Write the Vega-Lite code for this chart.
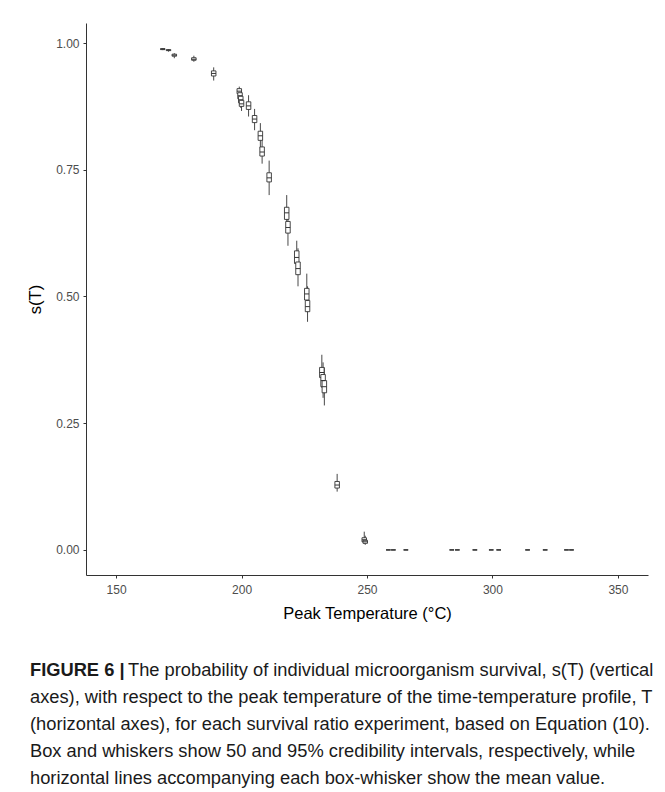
{
  "$schema": "https://vega.github.io/schema/vega-lite/v6.json",
  "background": "white",
  "padding": {"left": 27, "top": 23, "right": 10, "bottom": 0},
  "spacing": 36,
  "config": {
    "view": {"stroke": null},
    "font": "Liberation Sans",
    "axis": {
      "grid": false,
      "domainColor": "#333333",
      "tickColor": "#333333",
      "tickSize": 3,
      "labelColor": "#4d4d4d",
      "labelFontSize": 12,
      "labelFont": "Liberation Sans",
      "titleFont": "Liberation Sans",
      "titleFontSize": 16.5,
      "titleFontWeight": "normal",
      "titleColor": "#000000"
    }
  },
  "datasets": {
    "boxes": [
      {"T": 168.6, "lo": 0.986, "q1": 0.987, "mean": 0.988, "q3": 0.989, "hi": 0.990},
      {"T": 170.9, "lo": 0.983, "q1": 0.985, "mean": 0.986, "q3": 0.987, "hi": 0.988},
      {"T": 173.2, "lo": 0.970, "q1": 0.974, "mean": 0.976, "q3": 0.978, "hi": 0.980},
      {"T": 181.0, "lo": 0.963, "q1": 0.966, "mean": 0.968, "q3": 0.971, "hi": 0.975},
      {"T": 188.9, "lo": 0.926, "q1": 0.935, "mean": 0.940, "q3": 0.945, "hi": 0.952},
      {"T": 199.1, "lo": 0.890, "q1": 0.900, "mean": 0.905, "q3": 0.910, "hi": 0.914},
      {"T": 199.4, "lo": 0.880, "q1": 0.890, "mean": 0.896, "q3": 0.902, "hi": 0.910},
      {"T": 199.7, "lo": 0.872, "q1": 0.882, "mean": 0.888, "q3": 0.895, "hi": 0.905},
      {"T": 200.0, "lo": 0.866, "q1": 0.875, "mean": 0.880, "q3": 0.887, "hi": 0.898},
      {"T": 202.8, "lo": 0.855, "q1": 0.869, "mean": 0.876, "q3": 0.884, "hi": 0.897},
      {"T": 205.2, "lo": 0.828, "q1": 0.843, "mean": 0.850, "q3": 0.857, "hi": 0.870},
      {"T": 207.5, "lo": 0.790, "q1": 0.808, "mean": 0.817, "q3": 0.826, "hi": 0.842},
      {"T": 208.2, "lo": 0.762, "q1": 0.777, "mean": 0.785, "q3": 0.795, "hi": 0.810},
      {"T": 211.0, "lo": 0.700, "q1": 0.726, "mean": 0.734, "q3": 0.744, "hi": 0.768},
      {"T": 218.0, "lo": 0.625, "q1": 0.652, "mean": 0.665, "q3": 0.676, "hi": 0.700},
      {"T": 218.5, "lo": 0.600, "q1": 0.625, "mean": 0.636, "q3": 0.648, "hi": 0.675},
      {"T": 222.0, "lo": 0.545, "q1": 0.565, "mean": 0.577, "q3": 0.590, "hi": 0.610},
      {"T": 222.5, "lo": 0.520, "q1": 0.543, "mean": 0.555, "q3": 0.568, "hi": 0.595},
      {"T": 226.0, "lo": 0.470, "q1": 0.493, "mean": 0.505, "q3": 0.516, "hi": 0.545},
      {"T": 226.3, "lo": 0.450, "q1": 0.470, "mean": 0.480, "q3": 0.492, "hi": 0.520},
      {"T": 232.0, "lo": 0.320, "q1": 0.340, "mean": 0.350, "q3": 0.360, "hi": 0.385},
      {"T": 232.5, "lo": 0.300, "q1": 0.322, "mean": 0.334, "q3": 0.346, "hi": 0.370},
      {"T": 233.0, "lo": 0.285, "q1": 0.310, "mean": 0.322, "q3": 0.334, "hi": 0.360},
      {"T": 238.1, "lo": 0.115, "q1": 0.122, "mean": 0.128, "q3": 0.135, "hi": 0.150},
      {"T": 248.9, "lo": 0.012, "q1": 0.016, "mean": 0.020, "q3": 0.024, "hi": 0.036},
      {"T": 249.3, "lo": 0.010, "q1": 0.013, "mean": 0.016, "q3": 0.019, "hi": 0.028},
      {"T": 258.5, "lo": 0, "q1": 0, "mean": 0, "q3": 0, "hi": 0},
      {"T": 260.5, "lo": 0, "q1": 0, "mean": 0, "q3": 0, "hi": 0},
      {"T": 265.5, "lo": 0, "q1": 0, "mean": 0, "q3": 0, "hi": 0},
      {"T": 283.8, "lo": 0, "q1": 0, "mean": 0, "q3": 0, "hi": 0},
      {"T": 286.0, "lo": 0, "q1": 0, "mean": 0, "q3": 0, "hi": 0},
      {"T": 293.0, "lo": 0, "q1": 0, "mean": 0, "q3": 0, "hi": 0},
      {"T": 299.5, "lo": 0, "q1": 0, "mean": 0, "q3": 0, "hi": 0},
      {"T": 302.5, "lo": 0, "q1": 0, "mean": 0, "q3": 0, "hi": 0},
      {"T": 314.0, "lo": 0, "q1": 0, "mean": 0, "q3": 0, "hi": 0},
      {"T": 321.0, "lo": 0, "q1": 0, "mean": 0, "q3": 0, "hi": 0},
      {"T": 329.5, "lo": 0, "q1": 0, "mean": 0, "q3": 0, "hi": 0},
      {"T": 331.5, "lo": 0, "q1": 0, "mean": 0, "q3": 0, "hi": 0}
    ],
    "captionHead": [
      {"line": 1, "text": "FIGURE 6 |"}
    ],
    "captionFirst": [
      {"line": 1, "text": "The probability of individual microorganism survival, s(T) (vertical"}
    ],
    "captionRest": [
      {"line": 2, "text": "axes), with respect to the peak temperature of the time-temperature profile, T"},
      {"line": 3, "text": "(horizontal axes), for each survival ratio experiment, based on Equation (10)."},
      {"line": 4, "text": "Box and whiskers show 50 and 95% credibility intervals, respectively, while"},
      {"line": 5, "text": "horizontal lines accompanying each box-whisker show the mean value."}
    ]
  },
  "vconcat": [
    {
      "width": 562,
      "height": 552,
      "data": {"name": "boxes"},
      "encoding": {
        "x": {
          "field": "T", "type": "quantitative",
          "scale": {"domain": [140, 360], "nice": false, "zero": false},
          "axis": {"values": [150, 200, 250, 300, 350], "title": "Peak Temperature (°C)", "labelPadding": 6, "titlePadding": 10}
        }
      },
      "layer": [
        {
          "mark": {"type": "rule", "color": "#333333", "strokeWidth": 0.9},
          "encoding": {
            "y": {
              "field": "lo", "type": "quantitative",
              "scale": {"domain": [-0.0495, 1.0395], "nice": false, "zero": false},
              "axis": {"values": [0, 0.25, 0.5, 0.75, 1], "format": ".2f", "title": "s(T)", "labelPadding": 4, "titlePadding": 12}
            },
            "y2": {"field": "hi"}
          }
        },
        {
          "mark": {"type": "bar", "width": 4.5, "fill": "#ffffff", "stroke": "#333333", "strokeWidth": 0.9},
          "encoding": {
            "y": {"field": "q1", "type": "quantitative"},
            "y2": {"field": "q3"}
          }
        },
        {
          "mark": {"type": "tick", "orient": "horizontal", "size": 4.5, "thickness": 1, "color": "#333333", "opacity": 1},
          "encoding": {
            "y": {"field": "mean", "type": "quantitative"}
          }
        }
      ]
    },
    {
      "width": 625,
      "height": 134,
      "layer": [
        {
          "data": {"name": "captionHead"},
          "mark": {"type": "text", "align": "left", "baseline": "middle", "fontSize": 18.3, "fontWeight": "bold", "dx": -56, "color": "#1a1a1a"},
          "encoding": {
            "y": {"field": "line", "type": "ordinal", "axis": null, "scale": {"domain": [1, 2, 3, 4, 5]}},
            "x": {"datum": 0, "type": "quantitative", "scale": {"domain": [0, 1]}, "axis": null},
            "text": {"field": "text"}
          }
        },
        {
          "data": {"name": "captionFirst"},
          "mark": {"type": "text", "align": "left", "baseline": "middle", "fontSize": 18.3, "dx": 42, "color": "#1a1a1a"},
          "encoding": {
            "y": {"field": "line", "type": "ordinal", "axis": null},
            "x": {"datum": 0, "type": "quantitative", "axis": null},
            "text": {"field": "text"}
          }
        },
        {
          "data": {"name": "captionRest"},
          "mark": {"type": "text", "align": "left", "baseline": "middle", "fontSize": 18.3, "dx": -56, "color": "#1a1a1a"},
          "encoding": {
            "y": {"field": "line", "type": "ordinal", "axis": null},
            "x": {"datum": 0, "type": "quantitative", "axis": null},
            "text": {"field": "text"}
          }
        }
      ]
    }
  ]
}
